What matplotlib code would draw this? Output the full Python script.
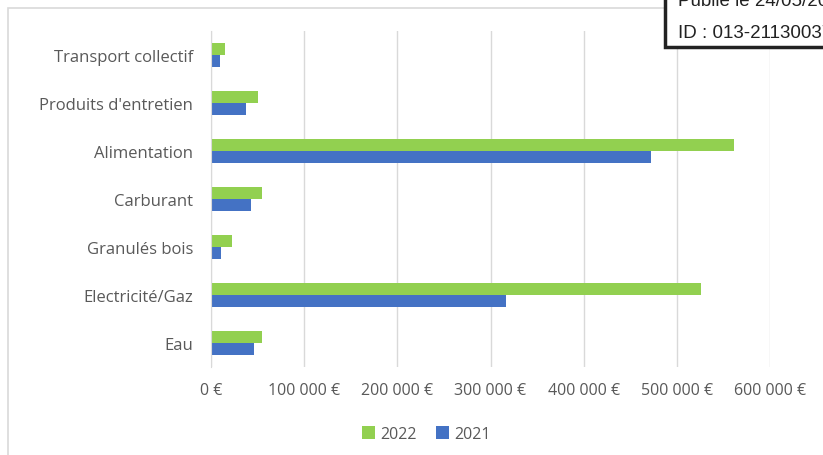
import matplotlib.pyplot as plt
import matplotlib.patches as mpatches
import numpy as np

# Dépenses par poste, 2021 vs 2022
categories = ['Eau', 'Electricité/Gaz', 'Granulés bois', 'Carburant',
              'Alimentation', "Produits d'entretien", 'Transport collectif']
val_2022 = [55000, 526000, 23000, 55000, 561000, 50000, 15000]
val_2021 = [46000, 317000, 11000, 43000, 472000, 38000, 10000]
xticks = [0, 100000, 200000, 300000, 400000, 500000, 600000]
xlabels = ['0 €', '100 000 €', '200 000 €', '300 000 €', '400 000 €', '500 000 €', '600 000 €']

green = '#92d050'
blue = '#4472c4'
txt = '#595959'
font = 'Open Sans'

fig = plt.figure(figsize=(8.23, 4.56), dpi=100)
W, H = 823, 456
ax = fig.add_axes([211 / W, (456 - 368) / H, (770 - 211) / W, (368 - 32) / H])

y = np.arange(len(categories))
h = 0.26
ax.barh(y + h / 2, val_2022, height=h, color=green, label='2022', zorder=3)
ax.barh(y - h / 2, val_2021, height=h, color=blue, label='2021', zorder=3)

ax.set_xlim(0, 600000)
ax.set_ylim(-0.5, len(categories) - 0.5)
ax.set_xticks(xticks)
ax.set_xticklabels(xlabels, fontsize=11.5, color=txt, family=font)
ax.set_yticks(y)
ax.set_yticklabels(categories, fontsize=12, color=txt, family=font)
ax.tick_params(length=0)
ax.tick_params(axis='x', pad=11)
ax.tick_params(axis='y', pad=13)
ax.grid(axis='x', color='#d9d9d9', linewidth=1, zorder=0)
for s in ['top', 'right', 'bottom']:
    ax.spines[s].set_visible(False)
ax.spines['left'].set_color('#d9d9d9')
ax.spines['left'].set_zorder(4)

leg = fig.legend(loc='center', bbox_to_anchor=(426 / W, 1 - 435 / H), ncol=2,
                 frameon=False, handlelength=0.85, handleheight=0.85,
                 handletextpad=0.3, columnspacing=1.2,
                 prop={'family': font, 'size': 11.5})
for t in leg.get_texts():
    t.set_color(txt)

# cadre du graphique
fig.patches.append(mpatches.Rectangle((8 / W, -0.05), 1.1, 1 - 9 / H + 0.05,
                                      transform=fig.transFigure, fill=False,
                                      edgecolor='#d9d9d9', linewidth=1.2))

# tampon en haut à droite
fig.patches.append(mpatches.Rectangle((665 / W, 1 - 48 / H), 0.3, 0.2,
                                      transform=fig.transFigure, facecolor='white',
                                      edgecolor='#222222', linewidth=2.5, zorder=10))
fig.text(678 / W, 1 - 1 / H, 'Publié le 24/05/2023', fontsize=13.5, color='#222222',
         family='Liberation Sans', va='center', zorder=11)
fig.text(678 / W, 1 - 33 / H, 'ID : 013-211300371', fontsize=13.5, color='#222222',
         family='Liberation Sans', va='center', zorder=11)

fig.savefig('out.png', dpi=100)
